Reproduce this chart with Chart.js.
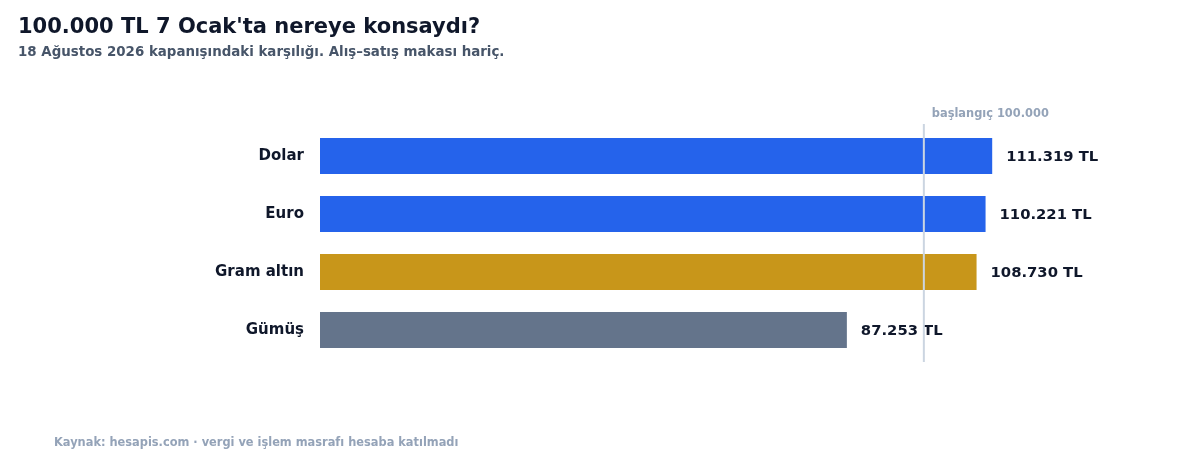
<!DOCTYPE html>
<html lang="tr">
<head>
<meta charset="utf-8">
<script src="https://cdn.jsdelivr.net/npm/chart.js@4"></script>
<style>
  body { margin: 0; background: #fff; font-family: "DejaVu Sans", sans-serif; }
  #wrap { position: relative; width: 1200px; height: 470px; }
  #chart { position: absolute; left: 0; top: 0; }
  .title { position: absolute; left: 18px; top: 14px; font-size: 21px; font-weight: bold; color: #0f172a; }
  .subtitle { position: absolute; left: 18px; top: 44px; font-size: 13.4px; font-weight: bold; color: #475569; }
  .footer { position: absolute; left: 54px; top: 435px; font-size: 11.4px; font-weight: bold; color: #94a3b8; }
</style>
</head>
<body>
<div id="wrap">
  <canvas id="chart" width="1200" height="470"></canvas>
  <div class="title">100.000 TL 7 Ocak'ta nereye konsaydı?</div>
  <div class="subtitle">18 Ağustos 2026 kapanışındaki karşılığı. Alış–satış makası hariç.</div>
  <div class="footer">Kaynak: hesapis.com · vergi ve işlem masrafı hesaba katılmadı</div>
</div>
<script>
const assets = ["Dolar", "Euro", "Gram altın", "Gümüş"]
const values = [111319, 110221, 108730, 87253]
const barColors = ["#2563eb", "#2563eb", "#c8961a", "#64748b"]
const startAmount = 100000
const startLabel = "başlangıç 100.000"

function formatTL(v) {
  return v.toLocaleString("de-DE") + " TL"
}

// value labels at the end of each bar
const valueLabels = {
  id: "valueLabels",
  afterDatasetsDraw(chart) {
    const ctx = chart.ctx
    const meta = chart.getDatasetMeta(0)
    ctx.save()
    ctx.font = "bold 14.8px 'DejaVu Sans'"
    ctx.fillStyle = "#0f172a"
    ctx.textBaseline = "middle"
    ctx.textAlign = "left"
    meta.data.forEach((bar, i) => {
      ctx.fillText(formatTL(values[i]), bar.x + 14, bar.y + 1)
    })
    ctx.restore()
  }
}

// vertical line at the starting amount
const startLine = {
  id: "startLine",
  afterDatasetsDraw(chart) {
    const ctx = chart.ctx
    const x = chart.scales.x.getPixelForValue(startAmount)
    const area = chart.chartArea
    ctx.save()
    ctx.strokeStyle = "#cbd5e1"
    ctx.lineWidth = 2
    ctx.beginPath()
    ctx.moveTo(x, area.top - 3)
    ctx.lineTo(x, area.bottom + 3)
    ctx.stroke()
    ctx.font = "bold 11.4px 'DejaVu Sans'"
    ctx.fillStyle = "#94a3b8"
    ctx.textAlign = "left"
    ctx.textBaseline = "alphabetic"
    ctx.fillText(startLabel, x + 8, area.top - 10)
    ctx.restore()
  }
}

const ctx = document.getElementById("chart").getContext("2d")
new Chart(ctx, {
  type: "bar",
  data: {
    labels: assets,
    datasets: [{
      data: values,
      backgroundColor: barColors,
      borderWidth: 0,
      categoryPercentage: 1,
      barPercentage: 0.62
    }]
  },
  options: {
    indexAxis: "y",
    responsive: false,
    animation: false,
    layout: { padding: { top: 127, bottom: 111, left: 0, right: 95 } },
    plugins: {
      legend: { display: false },
      tooltip: { enabled: false }
    },
    scales: {
      x: { display: false, min: 0, max: 130000 },
      y: {
        afterFit(scale) { scale.width = 320 },
        grid: { display: false },
        border: { display: false },
        ticks: {
          padding: 8,
          color: "#0f172a",
          font: { family: "DejaVu Sans", size: 15, weight: "bold" }
        }
      }
    }
  },
  plugins: [valueLabels, startLine]
})
</script>
</body>
</html>
